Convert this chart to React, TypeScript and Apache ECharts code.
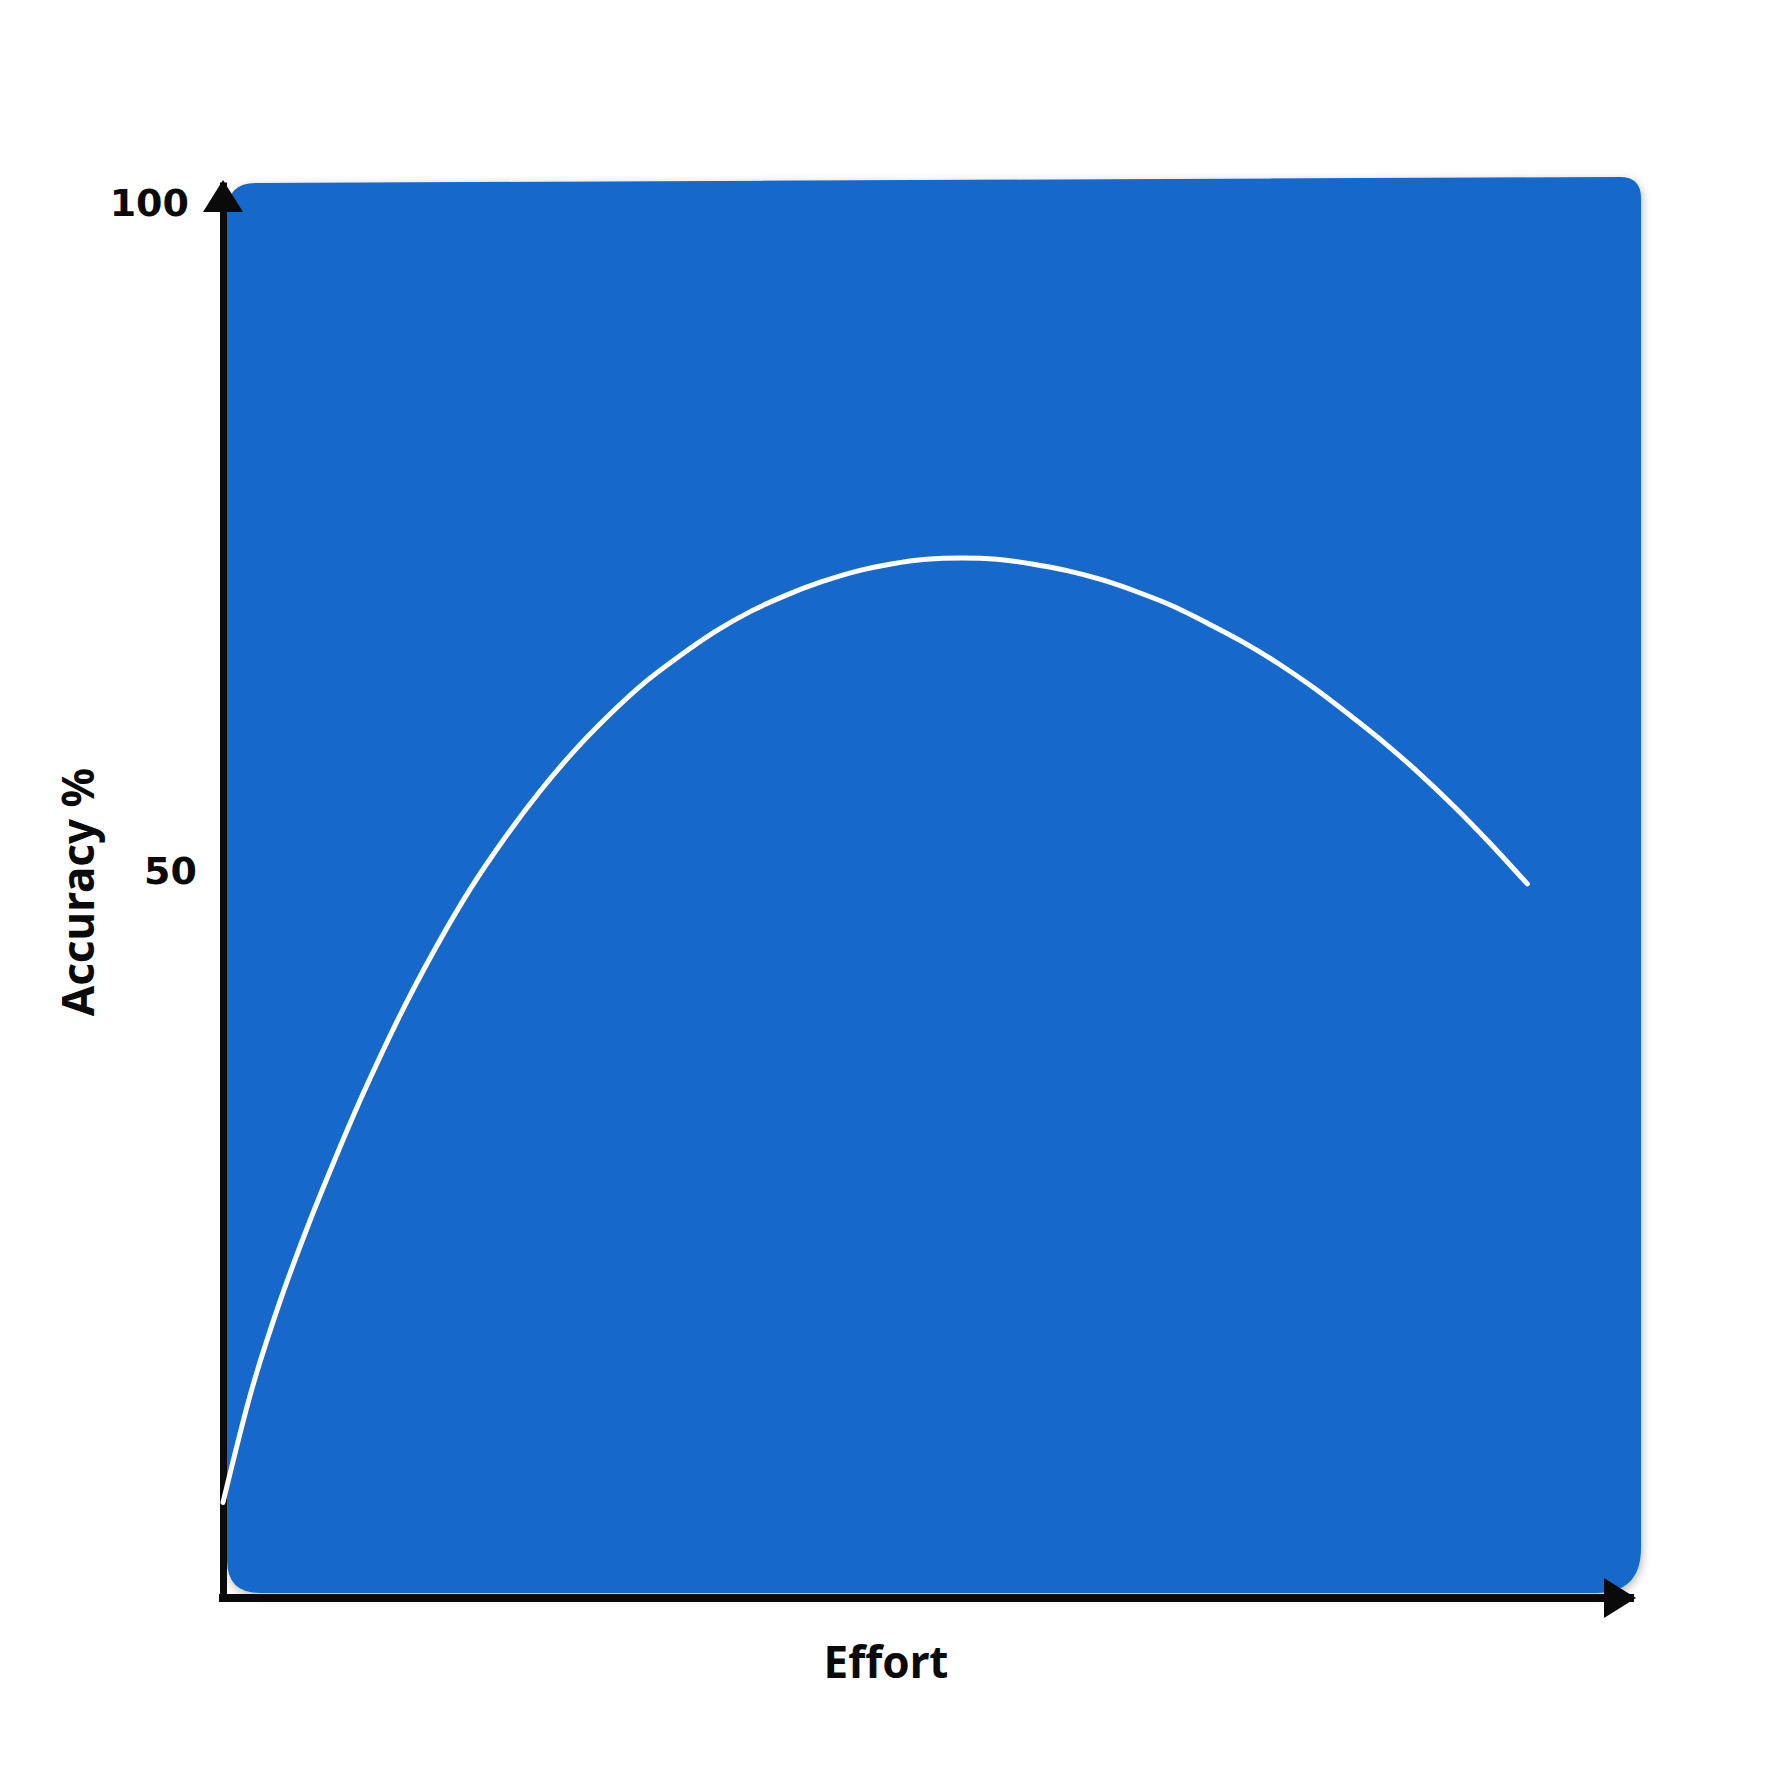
import React, { useEffect, useRef } from "react";
import * as echarts from "echarts";

// Curve (effort on x, accuracy % on y)
const effort = [
  0, 2, 4, 6, 8, 10, 12.5, 15, 17.5, 20, 22.5, 25, 27.5, 30, 32.5, 35, 37.5,
  40, 42.5, 45, 47.5, 50, 52.5, 55, 57.5, 60, 62.5, 65, 67.5, 70, 72.5, 75,
  77.5, 80, 82.5, 85, 87.5, 90, 92.7,
];
const accuracy = [
  2.7, 11.0, 17.6, 23.3, 28.5, 33.4, 39.0, 44.0, 48.5, 52.4, 55.9, 59.0, 61.7,
  64.1, 66.1, 67.9, 69.4, 70.6, 71.6, 72.4, 72.95, 73.3, 73.4, 73.3, 72.95,
  72.45, 71.75, 70.85, 69.8, 68.5, 67.1, 65.5, 63.7, 61.7, 59.6, 57.3, 54.8,
  52.1, 49.0,
];
const yTickValues = [50, 100];
const xAxisTitle = "Effort";
const yAxisTitle = "Accuracy %";

const PANEL_D =
  "M256 183 L1620 177 Q1641 177 1641 198 L1641 1548 Q1641 1593 1596 1593 L260 1593 Q227 1593 227 1560 L227 212 Q227 183 256 183 Z";

let registered = false;
function ensureShape() {
  if (registered) return;
  echarts.graphic.registerShape("panel", echarts.graphic.extendPath(PANEL_D, {}) as any);
  registered = true;
}

export default function App() {
  const ref = useRef<HTMLDivElement>(null);
  useEffect(() => {
    if (!ref.current) return;
    ensureShape();
    const chart = echarts.init(ref.current, undefined, { renderer: "svg" });
    const ink = "#0a0a0a";
    const font = "Noto Sans";
    chart.setOption({
      animation: false,
      backgroundColor: "#ffffff",
      graphic: [
        {
          type: "panel",
          x: 0,
          y: 0,
          z: -10,
          silent: true,
          style: {
            fill: "#1368CB",
            shadowBlur: 10,
            shadowColor: "rgba(0,0,0,0.28)",
            shadowOffsetX: 1,
            shadowOffsetY: 3,
          },
        },
      ],
      grid: {
        left: 223,
        right: 142,
        top: 186,
        bottom: 174,
        containLabel: false,
        outerBoundsMode: "none",
      },
      xAxis: {
        type: "value",
        min: 0,
        max: 100,
        name: xAxisTitle,
        nameLocation: "middle",
        nameGap: 41,
        nameTextStyle: {
          fontSize: 44,
          fontWeight: "bold",
          fontFamily: font,
          color: ink,
          padding: [0, 81, 0, 0],
        },
        axisLine: {
          show: true,
          onZero: false,
          symbol: ["none", "triangle"],
          symbolSize: [40, 32],
          symbolOffset: [0, -10],
          lineStyle: { color: ink, width: 8, cap: "square" },
        },
        axisTick: { show: false },
        axisLabel: { show: false },
        splitLine: { show: false },
      },
      yAxis: {
        type: "value",
        min: -4.45,
        max: 101.24,
        name: yAxisTitle,
        nameLocation: "middle",
        nameGap: 112,
        nameTextStyle: {
          fontSize: 44,
          fontWeight: "bold",
          fontFamily: font,
          color: ink,
        },
        axisLine: {
          show: true,
          onZero: false,
          symbol: ["none", "triangle"],
          symbolSize: [40, 32],
          symbolOffset: [0, -10],
          lineStyle: { color: ink, width: 7, cap: "square" },
        },
        axisTick: { show: false },
        axisLabel: {
          customValues: yTickValues,
          margin: 26,
          formatter: (v: number) => (v >= 100 ? `{top|${v}}` : `{mid|${v}}`),
          rich: {
            top: {
              fontSize: 38,
              fontWeight: "bold",
              fontFamily: "DejaVu Sans",
              color: ink,
              padding: [0, 8, 0, 0],
            },
            mid: {
              fontSize: 38,
              fontWeight: "bold",
              fontFamily: "DejaVu Sans",
              color: ink,
            },
          },
        },
        splitLine: { show: false },
      },
      series: [
        {
          type: "line",
          data: effort.map((x, i) => [x, accuracy[i]]),
          smooth: 0.3,
          showSymbol: false,
          lineStyle: { color: "#ffffff", width: 5, cap: "round" },
          z: 3,
        },
      ],
    });
    return () => chart.dispose();
  }, []);
  return (
    <div
      ref={ref}
      style={{ position: "fixed", left: 0, top: 0, width: 1772, height: 1772 }}
    />
  );
}
